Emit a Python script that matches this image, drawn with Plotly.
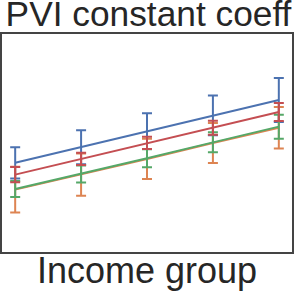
import plotly.graph_objects as go

income_groups = [0, 1, 2, 3, 4]

blue_vals = [0.409, 0.481, 0.554, 0.627, 0.697]
blue_err = [0.072, 0.078, 0.082, 0.091, 0.101]

orange_vals = [0.286, 0.355, 0.427, 0.500, 0.570]
orange_err = [0.105, 0.097, 0.092, 0.092, 0.095]

green_vals = [0.289, 0.358, 0.430, 0.503, 0.575]
green_err = [0.037, 0.039, 0.041, 0.046, 0.055]

red_vals = [0.355, 0.427, 0.501, 0.570, 0.642]
red_err = [0.035, 0.028, 0.028, 0.032, 0.041]

series = [
    ("blue", blue_vals, blue_err, "#4C72B0"),
    ("orange", orange_vals, orange_err, "#DD8452"),
    ("green", green_vals, green_err, "#55A868"),
    ("red", red_vals, red_err, "#C44E52"),
]

fig = go.Figure()
for name, vals, errs, color in series:
    fig.add_trace(go.Scatter(
        x=income_groups, y=vals, mode="lines", name=name,
        line=dict(color=color, width=2),
        error_y=dict(type="data", array=errs, visible=True,
                     color=color, thickness=2, width=5),
        showlegend=False,
    ))

fig.update_layout(
    width=299, height=291,
    margin=dict(l=2, r=7, t=34, b=39),
    paper_bgcolor="white", plot_bgcolor="white",
    font=dict(family="Liberation Sans, Arial, sans-serif", color="#262626"),
    title=dict(text="PVI constant coeff", x=0.4967, xanchor="center",
               y=1 - 14 / 291, yanchor="middle", yref="container",
               font=dict(size=35.3, color="#262626")),
)
fig.update_xaxes(range=[-0.2, 4.2], showticklabels=False, ticks="",
                 showgrid=False, zeroline=False, showline=True, mirror=True,
                 linecolor="#444444", linewidth=1.5, automargin=False,
                 title=dict(text="Income group", standoff=5,
                            font=dict(size=36, color="#262626")))
fig.update_yaxes(range=[0, 1], showticklabels=False, ticks="",
                 showgrid=False, zeroline=False, showline=True, mirror=True,
                 linecolor="#444444", linewidth=1.5, automargin=False)

fig.write_html("out.html", config={"displayModeBar": False},
               post_script="document.body.style.margin='0';document.body.style.overflow='hidden';")
